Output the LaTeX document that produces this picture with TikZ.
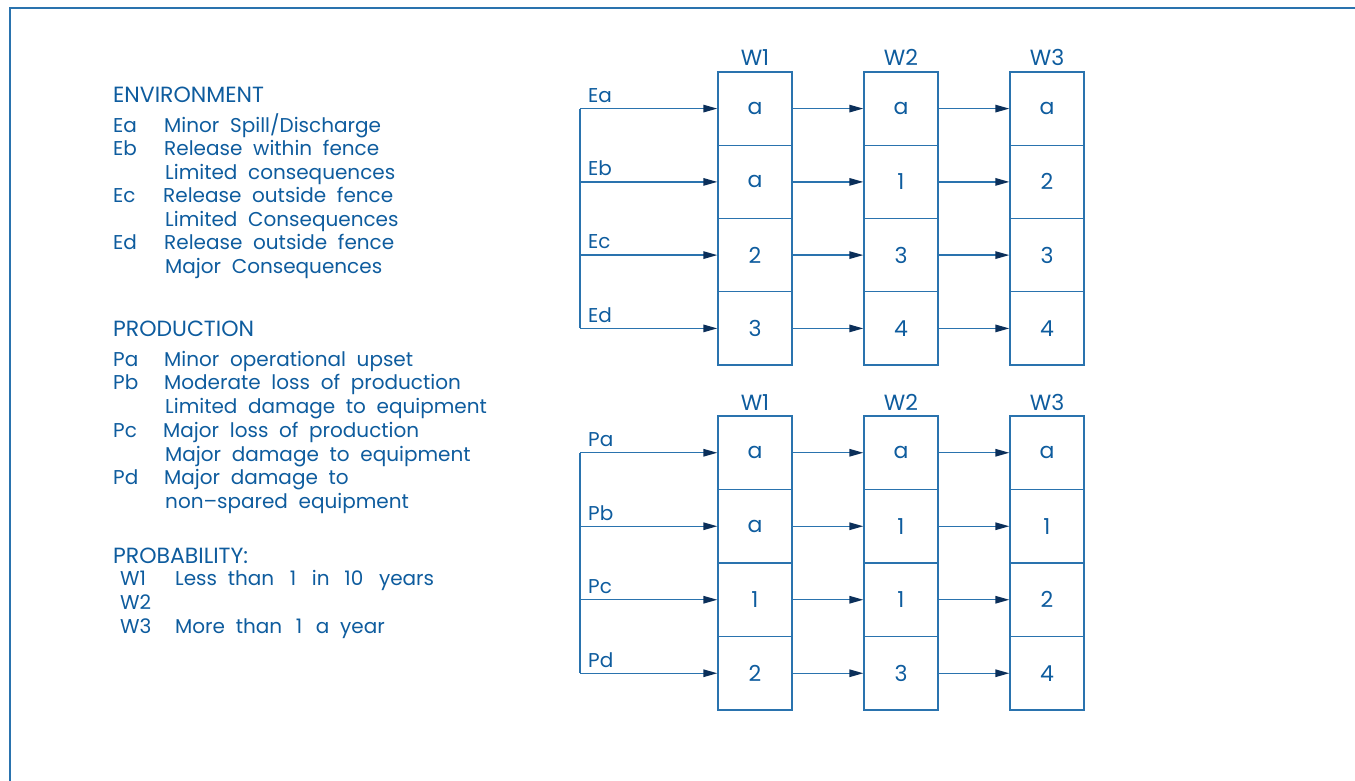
\documentclass[tikz,border=0pt]{standalone}
\usepackage{fontspec}
\setmainfont{Poppins}[WordSpace=2.0, Numbers=Monospaced]
\usetikzlibrary{arrows.meta}
\definecolor{ink}{HTML}{0E5C9E}
\definecolor{ln}{HTML}{2A73AE}
\definecolor{tip}{HTML}{0B2F5A}
\tikzset{
  txt/.style={anchor=base west, inner sep=0pt, text=ink, font=\fontsize{20}{24}\selectfont},
  head/.style={anchor=base west, inner sep=0pt, text=ink, font=\fontsize{22}{26}\selectfont},
  wlab/.style={anchor=base, inner sep=0pt, text=ink, font=\fontsize{22}{26}\selectfont},
  cell/.style={draw=ln, line width=1.4pt, minimum width=74pt, text=ink, font=\fontsize{22}{26}\selectfont, inner sep=0pt},
  conn/.style={draw=ln, line width=1.4pt},
  arr/.style={conn, -{Triangle[length=14pt,width=7.5pt,fill=tip,color=tip]}},
}
\begin{document}
\begin{tikzpicture}[x=1pt,y=-1pt]
\useasboundingbox (0,0) rectangle (1355,781);
% frame
\draw[ln, line width=2pt] (9,8) -- (1355,8);
\draw[ln, line width=2pt] (10,8) -- (10,781);
% legend
\node[head] (envh) at (113,102.7) {ENVIRONMENT};
\node[txt] (ea) at (113,132.5) {Ea};
\node[txt] (ead) at (164,132.5) {Minor Spill/Discharge};
\node[txt] (eb) at (113,155.5) {Eb};
\node[txt] (ebd) at (164,155.5) {Release within fence};
\node[txt] (ebd2) at (165,179) {Limited consequences};
\node[txt] (ec) at (113,202.7) {Ec};
\node[txt] (ecd) at (163,202.7) {Release outside fence};
\node[txt] (ecd2) at (165,226.5) {Limited Consequences};
\node[txt] (ed) at (113,249.5) {Ed};
\node[txt] (edd) at (164,249.5) {Release outside fence};
\node[txt] (edd2) at (165,273.3) {Major Consequences};
\node[head] (prodh) at (113,336.7) {PRODUCTION};
\node[txt] (pa) at (113,366) {Pa};
\node[txt] (pad) at (164,366) {Minor operational upset};
\node[txt] (pb) at (113,389.3) {Pb};
\node[txt] (pbd) at (164,389.3) {Moderate loss of production};
\node[txt] (pbd2) at (165,413.3) {Limited damage to equipment};
\node[txt] (pc) at (113,437.7) {Pc};
\node[txt] (pcd) at (163,437.7) {Major loss of production};
\node[txt] (pcd2) at (165,461) {Major damage to equipment};
\node[txt] (pd) at (113,484) {Pd};
\node[txt] (pdd) at (164,484) {Major damage to};
\node[txt] (pdd2) at (165,508) {non--spared equipment};
\node[head] (probh) at (113,563.3) {PROBABILITY:};
\node[txt] (w1) at (120,585.7) {W1};
\node[txt] (w1d) at (175,585.7) {Less than\hspace{5pt} 1\hspace{5pt} in\hspace{4pt} 10\hspace{5pt} years};
\node[txt] (w2) at (120,609) {W2};
\node[txt] (w3) at (120,633) {W3};
\node[txt] (w3d) at (175,633) {More than\hspace{3pt} 1\hspace{3pt} a year};
% top grid
\node[wlab] (tw1) at (755,65.5) {W1};
\node[wlab] (tw2) at (901,65.5) {W2};
\node[wlab] (tw3) at (1047,65.5) {W3};
\foreach \r/\y in {1/108.6, 2/181.9, 3/255.1, 4/328.4}{
  \foreach \c/\x in {1/755, 2/901, 3/1047}{
    \coordinate (tc\r\c) at (\x,\y);
  }
}
\node[cell, minimum height=73.25pt] (t11) at (tc11) {a};
\node[cell, minimum height=73.25pt] (t12) at (tc12) {a};
\node[cell, minimum height=73.25pt] (t13) at (tc13) {a};
\node[cell, minimum height=73.25pt] (t21) at (tc21) {a};
\node[cell, minimum height=73.25pt] (t22) at (tc22) {1};
\node[cell, minimum height=73.25pt] (t23) at (tc23) {2};
\node[cell, minimum height=73.25pt] (t31) at (tc31) {2};
\node[cell, minimum height=73.25pt] (t32) at (tc32) {3};
\node[cell, minimum height=73.25pt] (t33) at (tc33) {3};
\node[cell, minimum height=73.25pt] (t41) at (tc41) {3};
\node[cell, minimum height=73.25pt] (t42) at (tc42) {4};
\node[cell, minimum height=73.25pt] (t43) at (tc43) {4};
\coordinate (te1) at (580,108.6);
\coordinate (te2) at (580,181.9);
\coordinate (te3) at (580,255.1);
\coordinate (te4) at (580,328.4);
\draw[conn] (te1) -- (te4);
\node[txt] (lea) at (588,102.3) {Ea};
\node[txt] (leb) at (588,175.6) {Eb};
\node[txt] (lec) at (588,248.8) {Ec};
\node[txt] (led) at (588,322.1) {Ed};
\foreach \r in {1,2,3,4}{
  \draw[arr] (te\r) -- (t\r1.west);
  \draw[arr] (t\r1.east) -- (t\r2.west);
  \draw[arr] (t\r2.east) -- (t\r3.west);
}
% bottom grid
\node[wlab] (bw1) at (755,410) {W1};
\node[wlab] (bw2) at (901,410) {W2};
\node[wlab] (bw3) at (1047,410) {W3};
\foreach \r/\y in {1/452.75, 2/526.25, 3/599.75, 4/673.25}{
  \foreach \c/\x in {1/755, 2/901, 3/1047}{
    \coordinate (bc\r\c) at (\x,\y);
  }
}
\node[cell, minimum height=73.5pt] (b11) at (bc11) {a};
\node[cell, minimum height=73.5pt] (b12) at (bc12) {a};
\node[cell, minimum height=73.5pt] (b13) at (bc13) {a};
\node[cell, minimum height=73.5pt] (b21) at (bc21) {a};
\node[cell, minimum height=73.5pt] (b22) at (bc22) {1};
\node[cell, minimum height=73.5pt] (b23) at (bc23) {1};
\node[cell, minimum height=73.5pt] (b31) at (bc31) {1};
\node[cell, minimum height=73.5pt] (b32) at (bc32) {1};
\node[cell, minimum height=73.5pt] (b33) at (bc33) {2};
\node[cell, minimum height=73.5pt] (b41) at (bc41) {2};
\node[cell, minimum height=73.5pt] (b42) at (bc42) {3};
\node[cell, minimum height=73.5pt] (b43) at (bc43) {4};
\coordinate (be1) at (580,452.75);
\coordinate (be2) at (580,526.25);
\coordinate (be3) at (580,599.75);
\coordinate (be4) at (580,673.25);
\draw[conn] (be1) -- (be4);
\node[txt] (lpa) at (588,446.5) {Pa};
\node[txt] (lpb) at (588,520) {Pb};
\node[txt] (lpc) at (588,593.5) {Pc};
\node[txt] (lpd) at (588,667) {Pd};
\foreach \r in {1,2,3,4}{
  \draw[arr] (be\r) -- (b\r1.west);
  \draw[arr] (b\r1.east) -- (b\r2.west);
  \draw[arr] (b\r2.east) -- (b\r3.west);
}
\end{tikzpicture}
\end{document}
